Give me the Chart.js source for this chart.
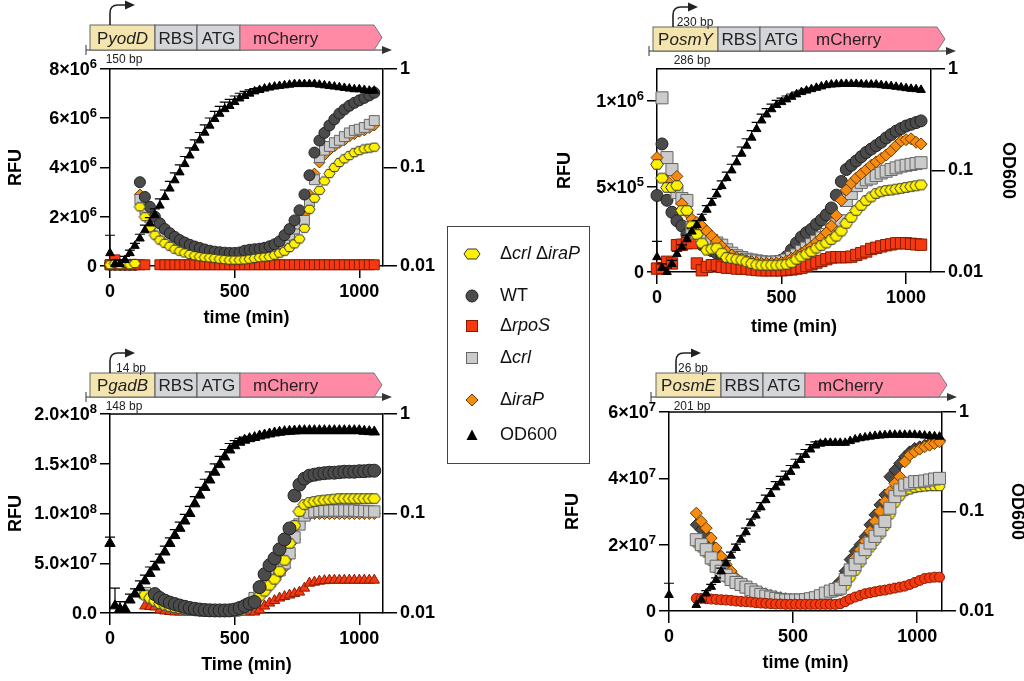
<!DOCTYPE html>
<html>
<head>
<meta charset="utf-8">
<script src="https://cdn.jsdelivr.net/npm/chart.js@4.4.1/dist/chart.umd.min.js"></script>
<style>
  body { margin: 0; width: 1024px; height: 681px; background: #fff; position: relative; overflow: hidden;
         font-family: "Liberation Sans", Arial, Helvetica, sans-serif; }
  canvas { position: absolute; }
  #art { position: absolute; left: 0; top: 0; }
  #legend { position: absolute; left: 447px; top: 226px; width: 143px; height: 238px; box-sizing: border-box;
            border: 1px solid #444; background: #fff; }
  #legend .row { position: absolute; left: 0; height: 24px; width: 140px; }
  #legend svg { position: absolute; left: 14px; top: 3px; }
  #legend span { position: absolute; left: 52px; top: 1px; font-size: 18px; color: #111; white-space: nowrap; }
</style>
</head>
<body>
<canvas id="c1" width="450" height="285" style="left:0px;top:55px"></canvas>
<canvas id="c2" width="479" height="290" style="left:545px;top:55px"></canvas>
<canvas id="c3" width="450" height="280" style="left:0px;top:400px"></canvas>
<canvas id="c4" width="480" height="283" style="left:555px;top:398px"></canvas>
<svg id="art" width="1024" height="681"></svg>
<div id="legend"></div>

<script>
// time points (min)
const times = [0,20,40,60,80,100,120,140,160,180,200,220,240,260,280,300,320,340,360,380,
  400,420,440,460,480,500,520,540,560,580,600,620,640,660,680,700,720,740,760,780,
  800,820,840,860,880,900,920,940,960,980,1000,1020,1040,1060];
const times4 = [0,110,130,150,170,190,210,230,250,270,290,310,330,350,370,390,410,430,450,470,490,
  510,530,550,570,590,610,630,650,670,690,710,730,750,770,790,810,830,850,870,890,
  910,930,950,970,990,1010,1030,1050,1070,1090];

const xTicks = [0, 500, 1000];
const odTicks = [0.01, 0.1, 1];

// --- PyodD (RFU in 1e6) ---
const od1 = [0.0135,0.0105,0.0105,0.0115,0.0135,0.016,0.019,0.023,0.027,0.033,
  0.041,0.050,0.061,0.074,0.089,0.108,0.132,0.158,0.188,0.225,
  0.265,0.31,0.35,0.39,0.42,0.46,0.50,0.53,0.56,0.59,
  0.61,0.63,0.645,0.66,0.67,0.68,0.69,0.70,0.70,0.70,
  0.70,0.70,0.69,0.68,0.67,0.66,0.65,0.64,0.63,0.62,
  0.62,0.61,0.60,0.60];
const odErr1 = [0.007,0.001,0.001,0.001,0.001,0.001,0.002,0.003,0.004,0.005,
  0.007,0.009,0.011,0.014,0.017,0.021,0.026,0.032,0.038,0.045,
  0.052,0.06,0.065,0.07,0.07,0.07,0.065,0.06,0.05,0.04,
  0.03,0.02,0.015,0.01,0,0,0,0,0,0,
  0,0,0,0,0,0,0,0,0,0,0,0,0,0];
const wt1 = [0.05,0.05,0.05,0.05,0.05,0.05,3.4,2.8,2.4,2.0,
  1.73,1.5,1.33,1.18,1.05,0.95,0.86,0.79,0.73,0.67,
  0.62,0.58,0.56,0.54,0.53,0.53,0.55,0.62,0.66,0.68,
  0.7,0.74,0.8,0.88,1.0,1.25,1.5,1.85,2.26,2.9,
  3.68,4.6,5.09,5.4,5.7,5.95,6.18,6.35,6.5,6.62,
  6.72,6.82,6.92,7.03];
const crl1 = [0.05,0.05,0.05,0.05,0.05,0.05,2.7,2.3,1.95,1.7,
  1.5,1.3,1.15,1.0,0.9,0.8,0.72,0.64,0.58,0.52,
  0.47,0.43,0.4,0.38,0.36,0.35,0.36,0.4,0.45,0.5,
  0.55,0.6,0.68,0.78,0.9,1.05,1.25,1.5,1.7,1.85,
  2.6,3.5,4.4,4.7,4.85,5.0,5.1,5.25,5.4,5.5,
  5.55,5.62,5.75,5.9];
const iraP1 = [0.05,0.05,0.05,0.05,0.05,0.05,2.9,2.4,2.0,1.7,
  1.45,1.25,1.1,0.98,0.87,0.78,0.7,0.63,0.57,0.52,
  0.48,0.45,0.42,0.4,0.38,0.37,0.38,0.42,0.47,0.52,
  0.57,0.62,0.7,0.8,0.92,1.08,1.28,1.5,1.75,2.1,
  2.9,3.75,4.2,4.5,4.7,4.85,5.0,5.1,5.25,5.35,
  5.45,5.5,5.6,5.7];
const dbl1 = [0.05,0.1,0.05,0.1,0.05,0.1,2.4,2.0,1.55,1.25,
  1.05,0.92,0.8,0.68,0.6,0.53,0.47,0.42,0.38,0.35,
  0.33,0.31,0.28,0.26,0.24,0.24,0.24,0.25,0.28,0.31,
  0.34,0.36,0.38,0.44,0.52,0.6,0.75,0.9,1.1,1.53,
  2.3,2.75,3.07,3.45,3.75,4.0,4.2,4.35,4.48,4.6,
  4.68,4.75,4.78,4.82];
const rpoS1 = [0.05,0.25,0.05,0.05,0.05,0.05,0.05,0.05,null,null,
  0.05,0.05,0.05,0.05,0.05,0.05,0.05,0.05,0.05,0.05,
  0.05,0.05,0.05,0.05,0.05,0.05,0.05,0.05,0.05,0.05,
  0.05,0.05,0.05,0.05,0.05,0.05,0.05,0.05,0.05,0.05,
  0.05,0.05,0.05,0.05,0.05,0.05,0.05,0.05,0.05,0.05,
  0.05,0.05,0.05,0.05];
const yTicks1 = [0, 2, 4, 6, 8];
const yLabels1 = [['0', ''], ['2×10', '6'], ['4×10', '6'], ['6×10', '6'], ['8×10', '6']];

// --- PosmY (RFU in 1e5) ---
const od2 = [0.014,0.011,0.01,0.012,0.015,0.0175,0.021,0.025,0.029,0.034,
  0.041,0.048,0.058,0.07,0.084,0.1,0.12,0.146,0.175,0.21,
  0.255,0.31,0.355,0.4,0.44,0.47,0.5,0.53,0.56,0.59,
  0.61,0.63,0.65,0.67,0.69,0.7,0.705,0.71,0.71,0.71,
  0.71,0.705,0.70,0.70,0.70,0.69,0.68,0.675,0.665,0.655,
  0.645,0.635,0.63,0.62];
const odErr2 = [0.006,0.001,0.001,0.001,0.001,0.001,0.002,0.002,0.003,0.003,
  0.004,0.005,0.007,0.009,0.012,0.015,0.019,0.024,0.03,0.036,
  0.042,0.048,0.05,0.05,0.048,0.045,0.04,0.035,0.03,0.025,
  0.02,0.015,0.01,0.008,0,0,0,0,0,0,
  0,0,0,0,0,0,0,0,0,0,0,0,0,0];
const wt2 = [4.48,7.5,4.2,3.5,3.0,2.7,2.2,2.05,1.9,1.6,
  1.4,1.25,1.1,0.98,0.88,0.8,0.74,0.7,0.66,0.62,
  0.6,0.58,0.57,0.58,0.62,0.7,0.9,1.3,1.7,2.05,
  2.3,2.5,2.8,3.05,3.35,3.75,4.5,5.3,6.0,6.25,
  6.5,6.75,7.0,7.2,7.4,7.6,7.85,8.05,8.25,8.4,
  8.55,8.65,8.75,8.85];
const dbl2 = [6.3,5.5,4.95,4.95,5.06,3.6,3.6,2.7,2.2,1.69,
  1.28,1.35,1.4,1.1,0.85,0.8,0.75,0.7,0.6,0.5,
  0.42,0.4,0.4,0.4,0.4,0.42,0.45,0.55,0.75,0.9,
  1.05,1.2,1.4,1.55,1.7,1.9,2.1,2.4,2.85,3.2,
  3.6,3.9,4.19,4.4,4.6,4.7,4.77,4.8,4.85,4.9,
  4.95,5.0,5.05,5.1];
const crl2 = [null,10.2,6.7,6.0,4.65,4.3,4.19,2.6,2.3,2.1,
  1.95,1.85,1.7,1.57,1.3,1.1,0.95,0.85,0.75,0.7,
  0.65,0.6,0.58,0.57,0.58,0.6,0.7,0.85,1.0,1.2,
  1.4,1.6,1.8,2.0,2.2,2.5,2.8,3.0,4.19,4.6,
  5.06,5.25,5.4,5.5,5.65,5.8,5.9,6.0,6.1,6.2,
  6.25,6.3,6.35,6.4];
const iraP2 = [6.7,null,5.35,null,5.6,4.0,3.5,3.1,2.9,2.7,
  2.4,2.1,1.8,1.5,1.2,1.0,0.85,0.75,0.65,0.6,
  0.55,0.5,0.5,0.5,0.52,0.55,0.65,0.8,0.95,1.1,
  1.3,1.5,1.75,2.0,2.3,2.7,3.3,4.2,4.8,5.2,
  5.5,5.75,6.0,6.25,6.45,6.65,6.85,7.1,7.4,7.67,
  7.75,7.8,7.6,7.5];
const rpoS2 = [0.2,0.23,0.6,0.5,1.57,1.6,1.69,1.69,0.5,0.1,
  0.3,0.4,0.4,0.3,0.25,0.25,0.2,0.2,0.2,0.15,
  0.12,0.1,0.1,0.1,0.1,0.1,0.12,0.15,0.2,0.25,
  0.35,0.45,0.55,0.65,0.75,0.85,0.87,0.87,0.87,0.9,
  1.0,1.1,1.2,1.35,1.42,1.5,1.57,1.62,1.68,1.69,
  1.68,1.65,1.62,1.6];
const yTicks2 = [0, 5, 10];
const yLabels2 = [['0', ''], ['5×10', '5'], ['1×10', '6']];

// --- PgadB (RFU in 1e7) ---
const od3 = [0.05,0.0118,0.011,0.011,0.0135,0.0155,0.018,0.021,0.025,0.029,
  0.034,0.041,0.05,0.06,0.071,0.084,0.1,0.125,0.153,0.183,
  0.217,0.26,0.31,0.37,0.435,0.48,0.52,0.545,0.565,0.58,
  0.6,0.615,0.63,0.645,0.655,0.665,0.67,0.675,0.68,0.68,
  0.68,0.68,0.68,0.68,0.68,0.68,0.68,0.68,0.68,0.68,
  0.68,0.67,0.665,0.66];
const odErr3 = [0.008,0.006,0.002,0.002,0.002,0.002,0.003,0.003,0.004,0.004,
  0.005,0.006,0.007,0.009,0.011,0.014,0.018,0.023,0.03,0.038,
  0.045,0.055,0.065,0.07,0.07,0.06,0.05,0.04,0.03,0.02,
  0.015,0.01,0,0,0,0,0,0,0,0,
  0,0,0,0,0,0,0,0,0,0,0,0,0,0];
const wt3 = [null,null,null,null,null,null,null,null,null,1.9,
  1.5,1.25,1.05,0.9,0.75,0.62,0.5,0.42,0.35,0.3,
  0.27,0.26,0.26,0.26,0.27,0.35,0.5,0.7,0.95,1.1,
  2.6,3.9,4.8,5.5,6.4,7.4,8.5,11.8,12.9,13.5,
  13.8,13.9,14.0,14.05,14.1,14.1,14.15,14.2,14.2,14.2,
  14.25,14.25,14.3,14.3];
const dbl3 = [null,null,null,null,null,null,null,1.8,1.5,1.2,
  0.95,0.8,0.65,0.55,0.45,0.38,0.32,0.28,0.25,0.22,
  0.2,0.2,0.2,0.2,0.2,0.22,0.3,0.5,0.8,1.2,
  1.7,2.2,2.8,3.4,4.2,5.3,7.0,8.8,10.2,10.9,
  11.1,11.2,11.3,11.35,11.4,11.45,11.5,11.5,11.5,11.5,
  11.5,11.5,11.5,11.5];
const crl3 = [null,null,null,null,null,null,null,2.0,1.7,1.4,
  1.1,0.9,0.75,0.62,0.52,0.44,0.37,0.32,0.28,0.25,
  0.22,0.21,0.21,0.21,0.21,0.25,0.35,0.6,0.9,1.5,
  2.3,2.7,3.2,3.8,4.3,5.0,6.0,7.6,8.9,9.8,
  10.1,10.2,10.25,10.3,10.3,10.3,10.3,10.3,10.3,10.3,
  10.25,10.25,10.2,10.2];
const iraP3 = [null,null,null,null,null,null,null,1.9,1.6,1.3,
  1.0,0.85,0.7,0.58,0.48,0.4,0.34,0.3,0.26,0.23,
  0.21,0.2,0.2,0.2,0.2,0.23,0.32,0.55,0.8,1.3,
  2.0,2.4,2.9,3.5,4.0,4.6,5.8,7.4,9.0,9.7,
  9.9,10.0,10.0,10.0,10.0,10.0,10.0,10.0,10.0,10.0,
  10.0,10.0,10.0,10.0];
const rpoS3 = [null,null,null,null,null,null,null,0.7,0.65,0.6,
  0.3,0.2,0.15,0.1,0.1,0.1,0.1,0.1,0.1,0.1,
  0.1,0.1,0.1,0.1,0.1,0.1,0.1,0.1,0.1,0.1,
  0.3,0.7,1.0,1.25,1.5,1.65,1.8,1.95,2.1,2.5,
  3.0,3.1,3.2,3.25,3.3,3.3,3.3,3.3,3.3,3.3,
  3.3,3.3,3.3,3.3];
const yTicks3 = [0, 5, 10, 15, 20];
const yLabels3 = [['0.0', ''], ['5.0×10', '7'], ['1.0×10', '8'], ['1.5×10', '8'], ['2.0×10', '8']];

// --- PosmE (RFU in 1e7) ---
const od4 = [0.0145,
  0.0115,0.013,0.015,0.0175,0.0205,0.025,0.030,0.036,0.043,0.052,
  0.062,0.076,0.091,0.11,0.13,0.15,0.175,0.195,0.22,0.25,
  0.29,0.33,0.37,0.42,0.46,0.48,0.49,0.49,0.49,0.49,
  0.49,0.51,0.53,0.545,0.555,0.565,0.575,0.58,0.585,0.59,
  0.59,0.59,0.59,0.59,0.59,0.585,0.58,0.575,0.57,0.565];
const odErr4 = [0.0045,
  0,0,0.001,0.001,0.001,0.002,0.002,0.003,0.004,0.005,
  0.006,0.008,0.01,0.013,0.016,0.02,0.025,0.03,0.035,0.04,
  0.045,0.05,0.05,0.05,0.04,0.03,0.02,0,0,0,
  0,0,0,0,0,0,0,0,0,0,0,0,0,0,0,0,0,0,0,0];
const wt4 = [null,
  2.6,2.45,2.3,2.0,1.75,1.5,1.3,1.1,0.95,0.85,
  0.75,0.65,0.58,0.52,0.47,0.42,0.38,0.35,0.33,0.32,
  0.31,0.31,0.32,0.34,0.38,0.44,0.52,0.62,0.75,0.9,
  1.2,1.55,1.8,2.0,2.24,2.6,2.9,3.2,3.5,4.05,
  4.25,4.45,4.65,4.8,4.9,4.95,5.0,5.05,5.1,5.15];
const iraP4 = [null,
  2.95,2.7,2.5,2.2,1.9,1.65,1.4,1.2,1.0,0.88,
  0.78,0.7,0.63,0.57,0.52,0.47,0.43,0.4,0.37,0.35,
  0.34,0.34,0.35,0.37,0.4,0.45,0.52,0.6,0.7,0.82,
  1.0,1.3,1.6,1.85,2.1,2.4,2.7,3.0,3.3,3.6,
  3.85,4.05,4.5,4.7,4.8,4.88,4.95,5.0,5.05,5.1];
const crl4 = [null,
  2.15,2.0,1.85,1.6,1.35,1.2,1.08,0.95,0.86,0.8,
  0.72,0.64,0.57,0.5,0.45,0.42,0.38,0.35,0.33,0.33,
  0.33,0.33,0.34,0.37,0.4,0.46,0.54,0.6,0.65,0.69,
  0.95,1.24,1.4,1.6,1.85,2.05,2.25,2.44,2.7,3.1,
  3.45,3.65,3.8,3.85,3.9,3.9,3.92,3.95,3.98,4.0];
const dbl4 = [null,
  2.05,1.9,1.75,1.5,1.28,1.12,1.0,0.9,0.82,0.75,
  0.67,0.6,0.53,0.47,0.42,0.39,0.36,0.33,0.31,0.31,
  0.31,0.31,0.32,0.34,0.37,0.42,0.48,0.53,0.57,0.6,
  0.75,1.0,1.2,1.45,1.7,1.9,2.1,2.3,2.55,2.9,
  3.25,3.45,3.6,3.65,3.7,3.72,3.74,3.75,3.75,3.75];
const rpoS4 = [null,
  0.38,0.38,0.37,0.36,0.35,0.34,0.33,0.32,0.3,0.29,
  0.28,0.27,0.25,0.24,0.23,0.22,0.21,0.21,0.2,0.2,
  0.2,0.2,0.2,0.2,0.2,0.2,0.2,0.2,0.2,0.22,
  0.28,0.36,0.42,0.47,0.52,0.55,0.58,0.61,0.63,0.66,
  0.69,0.72,0.75,0.8,0.86,0.92,0.98,1.0,1.02,1.02];
const yTicks4 = [0, 2, 4, 6];
const yLabels4 = [['0', ''], ['2×10', '7'], ['4×10', '7'], ['6×10', '7']];

const FONT = '"Liberation Sans", Arial, Helvetica, sans-serif';
Chart.defaults.font.family = FONT;
Chart.defaults.color = '#000';

const C = {
  yellow: '#fff200', wt: '#4b4b4b', red: '#f53a12', gray: '#cbcbcb', orange: '#f68b0f', black: '#000'
};

function pts(ts, vals, errs) {
  const out = [];
  ts.forEach((t, i) => {
    if (vals[i] !== null) out.push({ x: t, y: vals[i], e: errs ? errs[i] : 0 });
  });
  return out;
}

// yellow hexagon used as point image
function hexIcon(w, h) {
  const c = document.createElement('canvas');
  c.width = w + 2; c.height = h + 2;
  const g = c.getContext('2d');
  const cx = c.width / 2, cy = c.height / 2;
  g.beginPath();
  for (let k = 0; k < 6; k++) {
    const a = Math.PI / 3 * k;
    g.lineTo(cx + w / 2 * Math.cos(a), cy + h / 2 * Math.sin(a));
  }
  g.closePath();
  g.fillStyle = C.yellow; g.fill();
  g.lineWidth = 1; g.strokeStyle = '#333'; g.stroke();
  return c;
}

function ser(data, style, r, fill, stroke, order, axis) {
  return {
    data: data, pointStyle: style, pointRadius: r, pointBackgroundColor: fill,
    pointBorderColor: stroke, pointBorderWidth: 1, showLine: false,
    order: order, yAxisID: axis || 'y', clip: false
  };
}

const frameTop = {
  id: 'frameTop',
  afterDraw(chart) {
    const a = chart.chartArea, ctx = chart.ctx;
    ctx.save();
    ctx.strokeStyle = '#000'; ctx.lineWidth = 1.5;
    ctx.beginPath(); ctx.moveTo(a.left, a.top); ctx.lineTo(a.right, a.top); ctx.stroke();
    ctx.restore();
  }
};

// RFU tick labels with a raised exponent
const supLabels = {
  id: 'supLabels',
  afterDraw(chart) {
    const labels = chart.options.plugins.supLabels.labels;
    const ys = chart.scales.y, ctx = chart.ctx;
    const right = chart.chartArea.left - 13;
    ctx.save();
    ctx.fillStyle = '#000';
    ys.ticks.forEach((t, i) => {
      const y = ys.getPixelForValue(t.value);
      const [base, sup] = labels[i];
      ctx.font = 'bold 13px ' + FONT;
      const sw = sup ? ctx.measureText(sup).width : 0;
      if (sup) { ctx.textAlign = 'left'; ctx.textBaseline = 'alphabetic'; ctx.fillText(sup, right - sw, y - 1); }
      ctx.font = 'bold 18px ' + FONT;
      ctx.textAlign = 'right'; ctx.textBaseline = 'middle';
      ctx.fillText(base, right - sw, y + 1);
    });
    ctx.restore();
  }
};

// upper error bars for OD600
const errorBars = {
  id: 'errorBars',
  afterDatasetDraw(chart, args) {
    const ds = chart.data.datasets[args.index];
    if (!ds.errUp) return;
    const ys = chart.scales[ds.yAxisID], ctx = chart.ctx;
    ctx.save();
    ctx.strokeStyle = '#000'; ctx.lineWidth = 1.2;
    args.meta.data.forEach((p, i) => {
      const d = ds.data[i];
      if (!d.e) return;
      const top = ys.getPixelForValue(d.y + d.e);
      ctx.beginPath();
      ctx.moveTo(p.x, p.y); ctx.lineTo(p.x, top);
      ctx.moveTo(p.x - 5, top); ctx.lineTo(p.x + 5, top);
      ctx.stroke();
    });
    ctx.restore();
  }
};

function makePanel(id, p) {
  const tf = { family: FONT, size: 18, weight: 'bold' };
  const grid = len => ({ display: true, drawOnChartArea: false, drawTicks: true, tickLength: len, color: '#000', lineWidth: 1.5 });
  const border = { display: true, color: '#000', width: 1.5 };
  new Chart(document.getElementById(id), {
    type: 'scatter',
    data: { datasets: p.datasets },
    options: {
      responsive: false, animation: false, devicePixelRatio: 1,
      layout: { padding: { top: p.padTop, left: 0, right: 0, bottom: 0 } },
      plugins: { legend: { display: false }, tooltip: { enabled: false }, supLabels: { labels: p.yLabels } },
      scales: {
        x: {
          type: 'linear', position: 'bottom', min: 0, max: p.xMax,
          grid: grid(12), border: border,
          ticks: { font: tf, color: '#000', padding: 3, maxRotation: 0, autoSkip: false, callback: v => String(v) },
          afterBuildTicks: s => { s.ticks = xTicks.map(v => ({ value: v })); },
          afterFit: s => { s.height = p.bottomH; },
          title: { display: true, text: p.xTitle, font: tf, color: '#000', padding: { top: 0, bottom: p.xTitlePad } }
        },
        y: {
          type: 'linear', position: 'left', min: 0, max: p.yMax,
          grid: grid(10), border: border,
          ticks: { font: tf, color: '#000', padding: 3, autoSkip: false, callback: () => '' },
          afterBuildTicks: s => { s.ticks = p.yTicks.map(v => ({ value: v })); },
          afterFit: s => { s.width = p.leftW; },
          title: { display: true, text: 'RFU', font: tf, color: '#000', padding: { top: p.rfuPad, bottom: 0 } }
        },
        y2: {
          type: 'logarithmic', position: 'right', min: 0.01, max: 1,
          grid: grid(14), border: border,
          ticks: { font: tf, color: '#000', padding: 3, autoSkip: false, callback: v => String(v) },
          afterBuildTicks: s => { s.ticks = odTicks.map(v => ({ value: v })); },
          afterFit: s => { s.width = p.rightW; },
          title: { display: p.odTitle, text: 'OD600', font: tf, color: '#000', padding: { top: p.odPad, bottom: 0 } }
        }
      }
    },
    plugins: [frameTop, errorBars, supLabels]
  });
}

function odSet(ts, vals, errs, r) {
  const s = ser(pts(ts, vals, errs), 'triangle', r, C.black, C.black, 0, 'y2');
  s.errUp = true;
  return s;
}

const hexS = hexIcon(11, 9.5), hexL = hexIcon(12.5, 11);

makePanel('c1', {
  padTop: 13, leftW: 110, rightW: 67, bottomH: 74, xMax: 1095, yMax: 8,
  yTicks: yTicks1, yLabels: yLabels1, xTitle: 'time (min)', xTitlePad: 11, rfuPad: 5, odTitle: false, odPad: 0,
  datasets: [
    odSet(times, od1, odErr1, 5),
    ser(pts(times, dbl1), hexS, 5, C.yellow, '#333', 1),
    ser(pts(times, rpoS1), 'rect', 7, C.red, '#8a1a00', 2),
    ser(pts(times, wt1), 'circle', 5.5, C.wt, '#222', 3),
    ser(pts(times, crl1), 'rect', 7, C.gray, '#666', 4),
    ser(pts(times, iraP1), 'rectRot', 5.5, C.orange, '#6a3a00', 5)
  ]
});

makePanel('c2', {
  padTop: 12, leftW: 112, rightW: 93, bottomH: 73, xMax: 1100, yMax: 11.9,
  yTicks: yTicks2, yLabels: yLabels2, xTitle: 'time (min)', xTitlePad: 7, rfuPad: 9, odTitle: true, odPad: 5,
  datasets: [
    odSet(times, od2, odErr2, 5),
    ser(pts(times, dbl2), hexL, 6, C.yellow, '#333', 1),
    ser(pts(times, iraP2), 'rectRot', 6, C.orange, '#6a3a00', 2),
    ser(pts(times, crl2), 'rect', 8.5, C.gray, '#666', 3),
    ser(pts(times, rpoS2), 'rect', 8, C.red, '#8a1a00', 4),
    ser(pts(times, wt2), 'circle', 6, C.wt, '#222', 5)
  ]
});

makePanel('c3', {
  padTop: 14, leftW: 110, rightW: 67, bottomH: 67, xMax: 1095, yMax: 20,
  yTicks: yTicks3, yLabels: yLabels3, xTitle: 'Time (min)', xTitlePad: 4, rfuPad: 5, odTitle: false, odPad: 0,
  datasets: [
    odSet(times, od3, odErr3, 6),
    ser(pts(times, wt3), 'circle', 6.5, C.wt, '#222', 1),
    ser(pts(times, dbl3), hexL, 6, C.yellow, '#333', 2),
    ser(pts(times, crl3), 'rect', 8, C.gray, '#666', 3),
    ser(pts(times, iraP3), 'rectRot', 6, C.orange, '#6a3a00', 4),
    ser(pts(times, rpoS3), 'triangle', 6, C.red, '#8a1a00', 5)
  ]
});

makePanel('c4', {
  padTop: 14, leftW: 114, rightW: 93, bottomH: 70, xMax: 1100, yMax: 6,
  yTicks: yTicks4, yLabels: yLabels4, xTitle: 'time (min)', xTitlePad: 7, rfuPad: 7, odTitle: true, odPad: 7,
  datasets: [
    odSet(times4, od4, odErr4, 5),
    ser(pts(times4, rpoS4), 'circle', 5, C.red, '#8a1a00', 1),
    ser(pts(times4, crl4), 'rect', 8.5, C.gray, '#666', 2),
    ser(pts(times4, iraP4), 'rectRot', 6, C.orange, '#6a3a00', 3),
    ser(pts(times4, wt4), 'rectRot', 6, C.wt, '#222', 4),
    ser(pts(times4, dbl4), hexS, 5, C.yellow, '#333', 5)
  ]
});

// promoter constructs above each panel
function construct(o) {
  const bot = o.top + o.h, mid = o.top + o.h / 2, ty = mid + 6;
  const f = 'font-family=\'"Liberation Sans", Arial, sans-serif\'';
  let s = '';
  s += `<line x1="${o.lineL}" y1="${bot}" x2="${o.lineR - 6}" y2="${bot}" stroke="#333" stroke-width="1.2"/>`;
  s += `<polygon points="${o.lineR - 10},${bot - 4} ${o.lineR},${bot} ${o.lineR - 10},${bot + 4}" fill="#333"/>`;
  s += `<line x1="${o.lineL}" y1="${bot - 5}" x2="${o.lineL}" y2="${bot + 5}" stroke="#333" stroke-width="1"/>`;
  s += `<rect x="${o.x[0]}" y="${o.top}" width="${o.x[1] - o.x[0]}" height="${o.h}" fill="#f4e4ad" stroke="#666" stroke-width="1"/>`;
  s += `<rect x="${o.x[1]}" y="${o.top}" width="${o.x[2] - o.x[1]}" height="${o.h}" fill="#d3d5d8" stroke="#555" stroke-width="1"/>`;
  s += `<rect x="${o.x[2]}" y="${o.top}" width="${o.x[3] - o.x[2]}" height="${o.h}" fill="#d3d5d8" stroke="#555" stroke-width="1"/>`;
  s += `<polygon points="${o.x[3]},${o.top} ${o.tip - 8},${o.top} ${o.tip},${mid} ${o.tip - 8},${bot} ${o.x[3]},${bot}" fill="#ff8aa6" stroke="#777" stroke-width="1"/>`;
  s += `<text x="${(o.x[0] + o.x[1]) / 2}" y="${ty}" text-anchor="middle" font-size="17" fill="#222" ${f}>P<tspan font-style="italic">${o.name}</tspan></text>`;
  s += `<text x="${(o.x[1] + o.x[2]) / 2}" y="${ty}" text-anchor="middle" font-size="17" fill="#222" ${f}>RBS</text>`;
  s += `<text x="${(o.x[2] + o.x[3]) / 2}" y="${ty}" text-anchor="middle" font-size="17" fill="#222" ${f}>ATG</text>`;
  s += `<text x="${o.x[3] + 13}" y="${ty}" font-size="17" fill="#222" ${f}>mCherry</text>`;
  const ax = o.arrowX, ay = o.top - 20;
  s += `<path d="M${ax},${o.top} V${ay + 8} Q${ax},${ay} ${ax + 8},${ay} H${ax + 16}" fill="none" stroke="#222" stroke-width="1.6"/>`;
  s += `<polygon points="${ax + 15},${ay - 4.5} ${ax + 25},${ay} ${ax + 15},${ay + 4.5}" fill="#222"/>`;
  if (o.bpTop) s += `<text x="${o.bpTopX}" y="${o.top - 1}" text-anchor="middle" font-size="12" fill="#222" ${f}>${o.bpTop}</text>`;
  s += `<text x="${o.bpBotX}" y="${bot + 13}" text-anchor="middle" font-size="12" fill="#222" ${f}>${o.bpBot}</text>`;
  return s;
}

document.getElementById('art').innerHTML =
  construct({ top: 25, h: 25, x: [90, 155, 197, 240], tip: 382, lineL: 86, lineR: 392, arrowX: 110,
              name: 'yodD', bpTop: null, bpBot: '150 bp', bpBotX: 124 }) +
  construct({ top: 27, h: 24, x: [653, 718, 760, 803], tip: 945, lineL: 649, lineR: 956, arrowX: 673,
              name: 'osmY', bpTop: '230 bp', bpTopX: 695, bpBot: '286 bp', bpBotX: 692 }) +
  construct({ top: 373, h: 24, x: [90, 155, 197, 240], tip: 382, lineL: 86, lineR: 392, arrowX: 110,
              name: 'gadB', bpTop: '14 bp', bpTopX: 131, bpBot: '148 bp', bpBotX: 124 }) +
  construct({ top: 373, h: 24, x: [656, 721, 763, 805], tip: 947, lineL: 651, lineR: 957, arrowX: 676,
              name: 'osmE', bpTop: '26 bp', bpTopX: 693, bpBot: '201 bp', bpBotX: 692 });

// legend
const legendRows = [
  { y: 27, label: 'Δ<i>crl</i> Δ<i>iraP</i>', mark: '<polygon points="18,9 14.5,14 5.5,14 2,9 5.5,4 14.5,4" fill="#fff200" stroke="#333"/>' },
  { y: 69, label: 'WT', mark: '<circle cx="10" cy="9" r="6" fill="#4b4b4b" stroke="#222"/>' },
  { y: 99, label: 'Δ<i>rpoS</i>', mark: '<rect x="4.5" y="3.5" width="11" height="11" fill="#f53a12" stroke="#8a1a00"/>' },
  { y: 131, label: 'Δ<i>crl</i>', mark: '<rect x="4.5" y="3.5" width="11" height="11" fill="#cbcbcb" stroke="#666"/>' },
  { y: 173, label: 'Δ<i>iraP</i>', mark: '<polygon points="10,3 16,9 10,15 4,9" fill="#f68b0f" stroke="#6a3a00"/>' },
  { y: 208, label: 'OD600', mark: '<polygon points="10,3.5 15.5,14 4.5,14" fill="#000"/>' }
];
document.getElementById('legend').innerHTML = legendRows.map(r =>
  `<div class="row" style="top:${r.y - 12}px"><svg width="20" height="18">${r.mark}</svg><span>${r.label}</span></div>`
).join('');
</script>
</body>
</html>
